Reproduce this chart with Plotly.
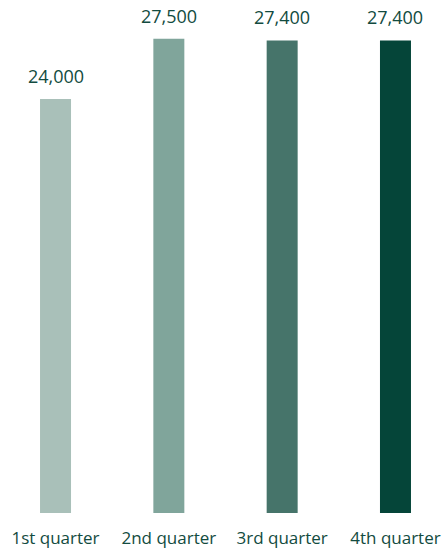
import plotly.graph_objects as go

categories = ["1st quarter", "2nd quarter", "3rd quarter", "4th quarter"]
values = [24000, 27500, 27400, 27400]
labels = ["24,000", "27,500", "27,400", "27,400"]
colors = ["#a9c0b9", "#80a59b", "#46746a", "#054539"]
text_color = "#124b40"
FONT = "Open Sans"

fig = go.Figure()
fig.add_trace(go.Bar(
    x=list(range(len(categories))), y=values,
    marker=dict(color=colors, line=dict(width=0)),
    width=0.2735,
    hoverinfo="skip",
))
for i, (v, t) in enumerate(zip(values, labels)):
    fig.add_annotation(x=i, y=v, text=t, showarrow=False, yanchor="bottom",
                       yshift=9, font=dict(family=FONT, size=18, color=text_color))

fig.update_layout(
    width=445, height=550,
    margin=dict(l=0, r=0, t=0, b=37),
    plot_bgcolor="white", paper_bgcolor="white",
    showlegend=False,
    font=dict(family=FONT, size=17, color=text_color),
    xaxis=dict(range=[-0.49, 3.437], tickmode="array",
               tickvals=list(range(len(categories))), ticktext=categories,
               showgrid=False, zeroline=False, showline=False,
               ticks="outside", ticklen=10, tickcolor="rgba(0,0,0,0)",
               automargin=False,
               tickfont=dict(family=FONT, size=17, color=text_color)),
    yaxis=dict(range=[0, 29748], visible=False, showgrid=False, zeroline=False),
)
fig.write_html("out.html", config={"displayModeBar": False},
               post_script="document.body.style.margin='0';document.body.style.padding='0';")
